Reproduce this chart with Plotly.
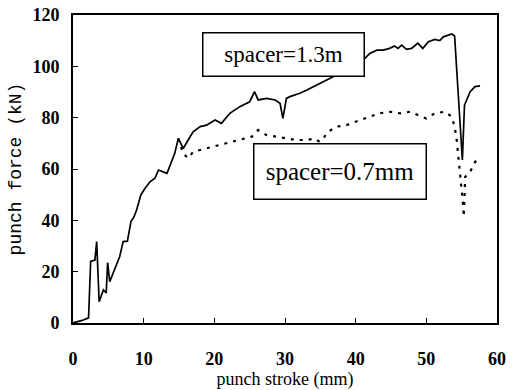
import plotly.graph_objects as go

# spacer = 1.3 mm (solid)
stroke_13 = [0, 1.3, 2.2, 2.5, 3.1, 3.35, 3.7, 4.3, 4.7, 4.9, 5.2, 5.9, 6.6, 7.1, 7.7, 8.2, 8.6, 9.0,
             9.6, 10.2, 10.9, 11.6, 12.1, 13.3, 13.7, 14.4, 14.9, 15.6, 16.3, 17.0, 18.0, 18.9, 20.1,
             21.0, 22.2, 23.6, 25.0, 25.7, 26.2, 27.4, 28.6, 29.3, 29.7, 30.2, 30.7, 32.1, 33.1, 34.5,
             35.9, 37.3, 38.5, 39.8, 41.3, 42.0, 43.0, 43.9, 44.8, 45.5, 46.0, 46.5, 47.2, 47.9, 48.8,
             49.5, 50.3, 51.2, 51.9, 52.4, 53.6, 54.0, 55.1, 55.4, 56.2, 56.9, 57.6]
force_13 = [0, 1, 2, 24, 24.5, 31.7, 8.3, 12.9, 11.7, 23.5, 16.1, 20.6, 25.8, 31.7, 31.9, 39.5, 41.2, 44,
            49.9, 52.5, 55, 56.4, 59.6, 58.3, 60.9, 66.1, 71.9, 68, 71.3, 74.5, 76.5, 77.1, 79.1,
            77.8, 81.7, 84.3, 86.2, 90.1, 86.9, 87.5, 86.9, 85.6, 79.7, 87.5, 88.2, 89.5, 90.8, 92.7,
            94.7, 96.6, 98.5, 101, 103.1, 105, 106.3, 106.3, 107, 107.9, 107, 108.3, 106.6, 107, 109,
            107, 109.6, 110.5, 110, 111.5, 112.6, 111.8, 63.5, 84.9, 90.1, 92.1, 92.4]

# spacer = 0.7 mm (dotted)
stroke_07 = [14.9, 15.6, 16.3, 17.0, 18.0, 19.8, 21.7, 23.6, 25.3, 26.2, 27.4, 28.8, 30.2, 31.6, 33.1,
             34.2, 34.9, 35.6, 36.1, 37.3, 38.7, 40.6, 42.0, 43.4, 44.8, 46.3, 47.7, 48.8, 50.0, 51.2,
             52.6, 53.6, 54.0, 54.3, 54.5, 54.7, 55.2, 55.3, 55.5, 56.1, 56.9, 57.3]
force_07 = [71.9, 66, 64.2, 66.7, 67.4, 68.7, 70, 71.3, 72.6, 75.2, 73.2, 72.6, 71.9, 71.3, 71.3,
            71.9, 70.6, 72.6, 74.5, 76.5, 77.1, 79.1, 80.4, 81.7, 82.3, 81.7, 82.3, 81, 79.7, 81.7,
            82.3, 80.4, 76.5, 71.3, 66.1, 60.9, 46, 41.4, 57, 58.3, 62.8, 63.5]

x_ticks = [0, 10, 20, 30, 40, 50, 60]
y_ticks = [0, 20, 40, 60, 80, 100, 120]
labels = ["spacer=1.3m", "spacer=0.7mm"]

fig = go.Figure()
fig.add_trace(go.Scatter(x=stroke_13, y=force_13, mode="lines",
                         line=dict(color="black", width=1.7), showlegend=False))
fig.add_trace(go.Scatter(x=stroke_07, y=force_07, mode="lines",
                         line=dict(color="black", width=2.2, dash="3px,6px"), showlegend=False))

tickfont = dict(family="Liberation Serif", size=18, color="black", weight="bold")
fig.update_xaxes(range=[0, 60], tickvals=x_ticks, ticks="inside", ticklen=5, tickwidth=1,
                 tickcolor="black", showline=True, linecolor="black", linewidth=2, mirror=True,
                 showgrid=False, zeroline=False, tickfont=tickfont, ticklabelstandoff=18,
                 automargin=False,
                 title=dict(text="punch stroke (mm)",
                            font=dict(family="Liberation Serif", size=18, color="black"),
                            standoff=12))
fig.update_yaxes(range=[0, 120], tickvals=y_ticks, ticks="inside", ticklen=5, tickwidth=1,
                 tickcolor="black", showline=True, linecolor="black", linewidth=2, mirror=True,
                 showgrid=False, zeroline=False, tickfont=tickfont, ticklabelstandoff=8,
                 automargin=False,
                 title=dict(text="punch force (kN)",
                            font=dict(family="Liberation Mono", size=18, color="black"),
                            standoff=6))

fig.add_annotation(x=29.8, y=104.8, xref="x", yref="y", text=labels[0], showarrow=False,
                   font=dict(family="Liberation Serif", size=23, color="black"),
                   bgcolor="white", bordercolor="black", borderwidth=1.5, borderpad=0,
                   width=160, height=42)
fig.add_annotation(x=37.8, y=59.2, xref="x", yref="y", text=labels[1], showarrow=False,
                   font=dict(family="Liberation Serif", size=25, color="black"),
                   bgcolor="white", bordercolor="black", borderwidth=1.5, borderpad=0,
                   width=171, height=54)

fig.update_layout(width=522, height=390, margin=dict(l=73, r=25, t=15, b=67),
                  paper_bgcolor="white", plot_bgcolor="white")

fig.write_html("out.html")
